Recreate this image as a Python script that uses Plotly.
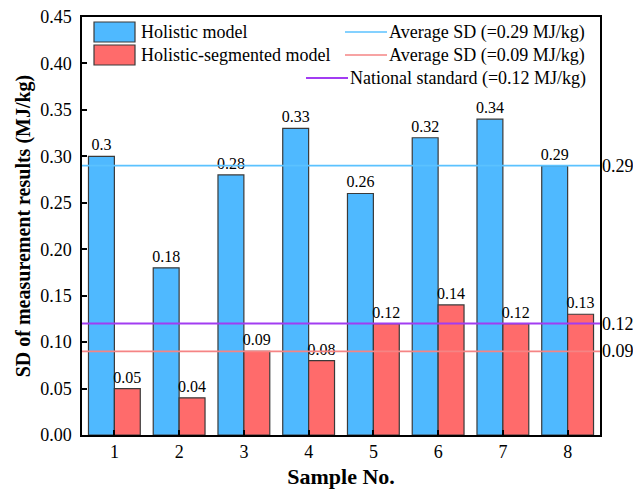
import plotly.graph_objects as go

# Sample numbers and measured standard deviations (MJ/kg)
samples = [1, 2, 3, 4, 5, 6, 7, 8]
holistic = [0.30, 0.18, 0.28, 0.33, 0.26, 0.32, 0.34, 0.29]
segmented = [0.05, 0.04, 0.09, 0.08, 0.12, 0.14, 0.12, 0.13]

# Reference levels
avg_holistic = 0.29
avg_segmented = 0.09
national_std = 0.12

series_names = ["Holistic model", "Holistic-segmented model"]
line_names = ["Average SD (=0.29 MJ/kg)", "Average SD (=0.09 MJ/kg)",
              "National standard (=0.12 MJ/kg)"]
y_ticks = [0.00, 0.05, 0.10, 0.15, 0.20, 0.25, 0.30, 0.35, 0.40, 0.45]

BLUE = "#4FB9FF"
RED = "#FF6B6B"
LINE_BLUE = "#5BC2FF"
LINE_RED = "#F58484"
PURPLE = "#A23CF2"
FONT = "Liberation Serif, Times New Roman, serif"

W, H = 633, 489
L, R, T, B = 82, 33, 17, 54
PW, PH = W - L - R, H - T - B


def px_x(x):
    return (x - L) / PW


def px_y(y):
    return (H - B - y) / PH


fig = go.Figure()

bar_text_font = dict(family=FONT, size=16, color="black")
for vals, name, col in [(holistic, series_names[0], BLUE), (segmented, series_names[1], RED)]:
    fig.add_trace(go.Bar(
        x=samples, y=vals, name=name,
        marker=dict(color=col, line=dict(color="#3A3A3A", width=1.2)),
        text=[f"{v:g}" for v in vals], textposition="outside",
        textfont=bar_text_font, outsidetextfont=bar_text_font,
        constraintext="none", cliponaxis=False, showlegend=False,
    ))

x_span = [0.5, 8.5]
for val, col in [(avg_holistic, LINE_BLUE), (avg_segmented, LINE_RED), (national_std, PURPLE)]:
    fig.add_trace(go.Scatter(
        x=x_span, y=[val, val], mode="lines",
        line=dict(color=col, width=1.6 if col != PURPLE else 2),
        showlegend=False, hoverinfo="skip",
    ))

annotations = []
# Value labels of the reference lines, just outside the right axis
for val in [avg_holistic, national_std, avg_segmented]:
    annotations.append(dict(
        x=1.0, xref="paper", y=val, yref="y", text=f"{val:.2f}",
        xanchor="left", yanchor="middle", showarrow=False, xshift=0,
        font=dict(family=FONT, size=18, color="black"),
    ))

shapes = []
# Legend: bar swatches on the left
for i, (name, col) in enumerate(zip(series_names, [BLUE, RED])):
    y0, y1 = 22 + 23 * i, 42 + 23 * i
    shapes.append(dict(type="rect", xref="paper", yref="paper",
                       x0=px_x(94), x1=px_x(135), y0=px_y(y1), y1=px_y(y0),
                       fillcolor=col, line=dict(color="#3A3A3A", width=1.2)))
    annotations.append(dict(
        x=px_x(139), xref="paper", y=px_y((y0 + y1) / 2), yref="paper",
        text=name, xanchor="left", yanchor="middle", showarrow=False,
        font=dict(family=FONT, size=18, color="black"),
    ))

# Legend: reference line entries on the right
line_entries = [
    (line_names[0], LINE_BLUE, 345, 387, 32),
    (line_names[1], LINE_RED, 345, 387, 55),
    (line_names[2], PURPLE, 306, 348, 78),
]
for name, col, xa, xb, yc in line_entries:
    shapes.append(dict(type="line", xref="paper", yref="paper",
                       x0=px_x(xa), x1=px_x(xb), y0=px_y(yc), y1=px_y(yc),
                       line=dict(color=col, width=1.6 if col != PURPLE else 2)))
    annotations.append(dict(
        x=px_x(xb), xref="paper", y=px_y(yc), yref="paper",
        text=name, xanchor="left", yanchor="middle", showarrow=False,
        font=dict(family=FONT, size=18, color="black"),
    ))

fig.update_layout(
    width=W, height=H,
    margin=dict(l=L, r=R, t=T, b=B, pad=0, autoexpand=False),
    paper_bgcolor="white", plot_bgcolor="white",
    barmode="group", bargap=0.2, bargroupgap=0,
    font=dict(family=FONT, size=18, color="black"),
    annotations=annotations, shapes=shapes,
    xaxis=dict(
        range=x_span, tickvals=samples, ticktext=[str(s) for s in samples],
        ticks="inside", ticklen=5, tickwidth=1.5, tickcolor="black",
        showline=True, linecolor="black", linewidth=1.5, mirror=True,
        showgrid=False, zeroline=False, ticklabelstandoff=0, automargin=False,
        tickfont=dict(family=FONT, size=18),
        title=dict(text="<b>Sample No.</b>", font=dict(family=FONT, size=22), standoff=8),
    ),
    yaxis=dict(
        range=[0, 0.45], tickvals=y_ticks, ticktext=[f"{v:.2f}" for v in y_ticks],
        ticks="inside", ticklen=5, tickwidth=1.5, tickcolor="black",
        showline=True, linecolor="black", linewidth=1.5, mirror=True,
        showgrid=False, zeroline=False, ticklabelstandoff=5, automargin=False,
        tickfont=dict(family=FONT, size=18),
        title=dict(text="<b>SD of measurement results (MJ/kg)</b>",
                   font=dict(family=FONT, size=20), standoff=4),
    ),
)

fig.write_html("out.html")
